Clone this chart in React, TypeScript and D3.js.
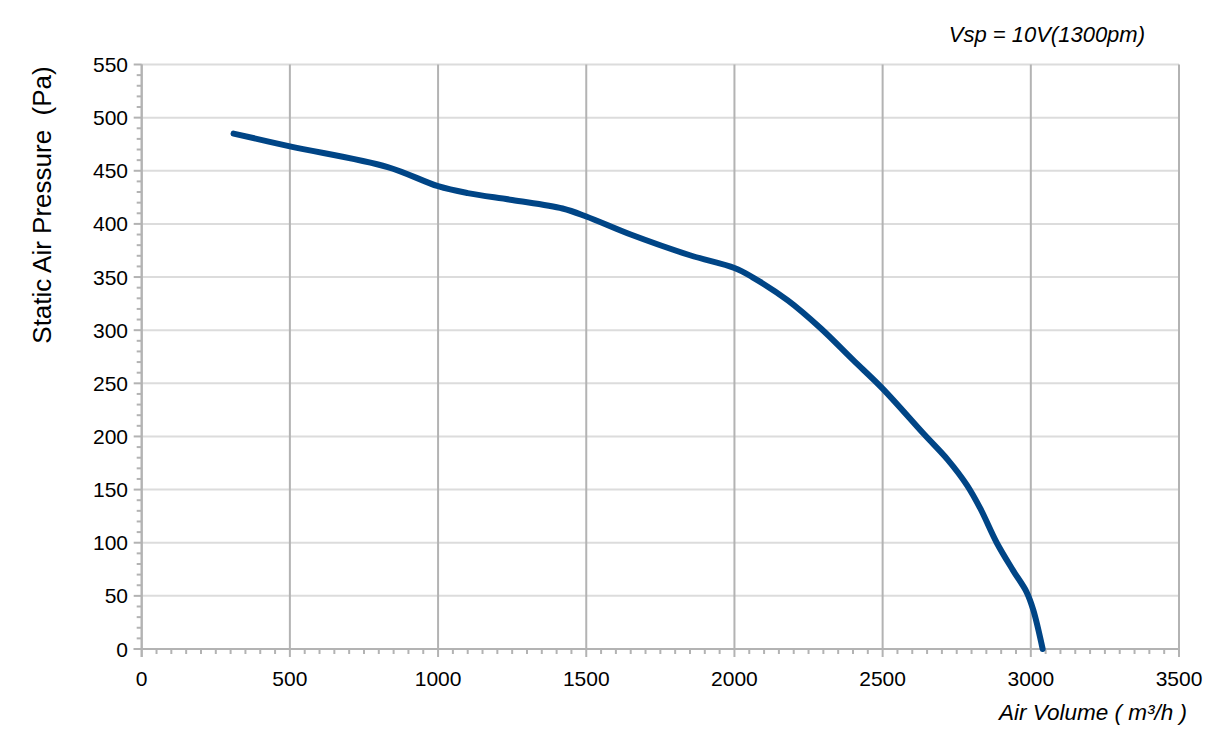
import React from "react";
import * as d3 from "d3";

const airVolume = [310, 500, 830, 1000, 1100, 1250, 1420, 1500, 1650, 1850, 2000, 2060, 2180, 2290, 2400, 2500, 2640, 2720, 2785, 2830, 2885, 2940, 2985, 3008, 3040];
const pressure = [485, 473, 453.5, 435.5, 429, 422.5, 414.5, 407, 390, 370.5, 358.5, 350, 328, 302, 272, 245, 202, 178, 154, 132, 100, 74, 54, 37, 0];
const xTicks = [0, 500, 1000, 1500, 2000, 2500, 3000, 3500];
const yTicks = [0, 50, 100, 150, 200, 250, 300, 350, 400, 450, 500, 550];

const W = 1224;
const H = 754;
const L = 141.7, R = 1179, T = 64.5, B = 649;

export default function App() {
  const x = d3.scaleLinear().domain([0, 3500]).range([L, R]);
  const y = d3.scaleLinear().domain([0, 550]).range([B, T]);
  const pts: [number, number][] = airVolume.map((v, i) => [v, pressure[i]]);
  const line = d3.line<[number, number]>().x(d => x(d[0])).y(d => y(d[1])).curve(d3.curveCatmullRom.alpha(0.5));
  const xMinor = d3.range(0, 3501, 50).filter(v => v % 500 !== 0);
  const yMinor = d3.range(0, 551, 10).filter(v => v % 50 !== 0);
  const font = "'Liberation Sans', Arial, sans-serif";
  return (
    <svg width={W} height={H} style={{ position: "absolute", left: 0, top: 0 }} fontFamily={font}>
      <rect x={0} y={0} width={W} height={H} fill="#fff" />
      {yTicks.map(t => (
        <line key={"hg" + t} x1={L} x2={R} y1={y(t)} y2={y(t)} stroke="#dcdcdc" strokeWidth={2} />
      ))}
      {xTicks.map(t => (
        <line key={"vg" + t} x1={x(t)} x2={x(t)} y1={T} y2={B} stroke="#b3b3b3" strokeWidth={2} />
      ))}
      <line x1={L} x2={L} y1={T} y2={B + 8} stroke="#b3b3b3" strokeWidth={2} />
      <line x1={L - 8} x2={R} y1={B} y2={B} stroke="#b3b3b3" strokeWidth={2} />
      {yTicks.map(t => (
        <line key={"yt" + t} x1={L - 8} x2={L} y1={y(t)} y2={y(t)} stroke="#b3b3b3" strokeWidth={2} />
      ))}
      {yMinor.map(t => (
        <line key={"ym" + t} x1={L - 5} x2={L} y1={y(t)} y2={y(t)} stroke="#b3b3b3" strokeWidth={2} />
      ))}
      {xTicks.map(t => (
        <line key={"xt" + t} x1={x(t)} x2={x(t)} y1={B} y2={B + 8} stroke="#b3b3b3" strokeWidth={2} />
      ))}
      {xMinor.map(t => (
        <line key={"xm" + t} x1={x(t)} x2={x(t)} y1={B} y2={B + 5} stroke="#b3b3b3" strokeWidth={2} />
      ))}
      {yTicks.map(t => (
        <text key={"yl" + t} x={128} y={y(t)} dy="0.36em" textAnchor="end" fontSize={21} fill="#000">{t}</text>
      ))}
      {xTicks.map(t => (
        <text key={"xl" + t} x={x(t)} y={686} textAnchor="middle" fontSize={21} fill="#000">{t}</text>
      ))}
      <path d={line(pts) ?? ""} fill="none" stroke="#004586" strokeWidth={6} strokeLinecap="round" strokeLinejoin="round" />
      <text transform={`translate(51,${205}) rotate(-90)`} textAnchor="middle" fontSize={26} fill="#000" style={{ whiteSpace: "pre" }}>{"Static Air Pressure  (Pa)"}</text>
      <text x={1187} y={720} textAnchor="end" fontSize={22.5} fontStyle="italic" fill="#000">Air Volume ( m³/h )</text>
      <text x={1145} y={42} textAnchor="end" fontSize={22} fontStyle="italic" fill="#000">Vsp = 10V(1300pm)</text>
    </svg>
  );
}
